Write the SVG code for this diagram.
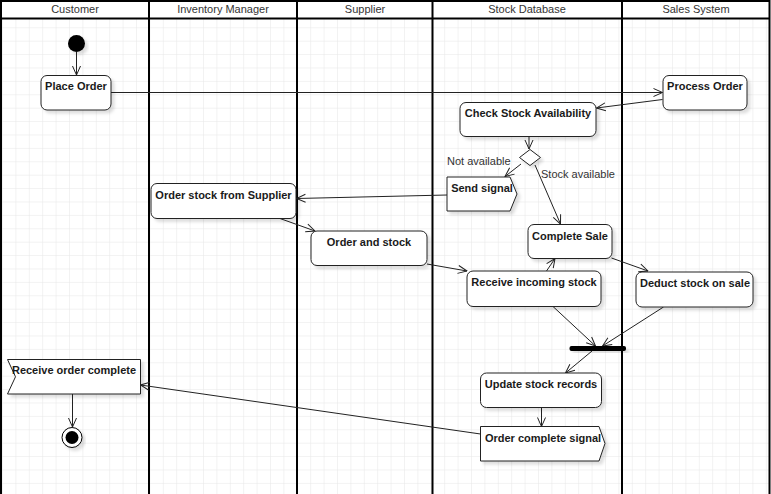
<svg xmlns="http://www.w3.org/2000/svg" width="771" height="494" viewBox="0 0 771 494">
<defs>
<pattern id="grid" x="2" y="0.5" width="13.4" height="13.4" patternUnits="userSpaceOnUse">
<path d="M0,0 H13.4 M0,0 V13.4" fill="none" stroke="#e6e6e6" stroke-width="1"/>
</pattern>
<marker id="arr" viewBox="0 0 10 10" refX="9.5" refY="5" markerWidth="10" markerHeight="10" markerUnits="userSpaceOnUse" orient="auto">
<path d="M0.5,1 L9.5,5 L0.5,9" fill="none" stroke="#222" stroke-width="1"/>
</marker>
<filter id="sh" x="-10%" y="-10%" width="130%" height="140%">
<feDropShadow dx="3" dy="3" stdDeviation="1.5" flood-color="#000" flood-opacity="0.13"/>
</filter>
</defs>
<style>
.lane{stroke:#000;stroke-width:2;fill:none}
.hd{font-family:"Liberation Sans",Arial,sans-serif;font-size:11px;fill:#333;text-anchor:middle}
.node{fill:#fff;stroke:#222;stroke-width:1;filter:url(#sh)}
.t{font-family:"Liberation Sans",Arial,sans-serif;font-size:11px;font-weight:bold;fill:#1a1a1a;text-anchor:middle}
.e{fill:none;stroke:#222;stroke-width:1;marker-end:url(#arr)}
.lbl{font-family:"Liberation Sans",Arial,sans-serif;font-size:11px;fill:#333}
</style>
<rect x="0" y="0" width="771" height="494" fill="#fff"/>
<rect x="1" y="19" width="769" height="475" fill="url(#grid)"/>
<g id="pool">
<rect x="1" y="1" width="768.5" height="500" class="lane"/>
<line x1="1" y1="18.5" x2="770" y2="18.5" class="lane"/>
<line x1="149" y1="1" x2="149" y2="494" class="lane"/>
<line x1="297" y1="1" x2="297" y2="494" class="lane"/>
<line x1="432.5" y1="1" x2="432.5" y2="494" class="lane"/>
<line x1="622" y1="1" x2="622" y2="494" class="lane"/>
<text class="hd" x="75" y="13">Customer</text>
<text class="hd" x="223" y="13">Inventory Manager</text>
<text class="hd" x="365" y="13">Supplier</text>
<text class="hd" x="527" y="13">Stock Database</text>
<text class="hd" x="696" y="13">Sales System</text>
</g>
<g id="connectors">
<path class="e" d="M76.5,52 V75"/>
<path class="e" d="M111,92.5 H662.5"/>
<path class="e" d="M662.5,99.5 L596.5,108"/>
<path class="e" d="M529,136.5 V149"/>
<path class="e" d="M521,164 L505,176.5"/>
<path class="e" d="M535,165 L560.5,224"/>
<path class="e" d="M447,195 L296.5,198.5"/>
<path class="e" d="M280,218.5 L315,231"/>
<path class="e" d="M427,264 L467,271"/>
<path class="e" d="M546.5,271 L555,258.5"/>
<path class="e" d="M611.5,258 L648,271"/>
<path class="e" d="M553,306.5 L595.5,346"/>
<path class="e" d="M663.5,307 L602.5,346"/>
<path class="e" d="M592,351 L565.5,373"/>
<path class="e" d="M541.5,407.5 V426.5"/>
<path class="e" d="M480.5,434 L140.5,385"/>
<path class="e" d="M72.5,394 V427"/>
<text class="lbl" x="447" y="164.5">Not available</text>
<text class="lbl" x="541" y="178">Stock available</text>
</g>
<g id="initial"><circle cx="76.5" cy="43.5" r="8.5" fill="#000" filter="url(#sh)"/></g>
<g id="place-order"><rect class="node" x="41" y="75.5" width="70" height="34.5" rx="6"/><text class="t" x="76" y="90">Place Order</text></g>
<g id="process-order"><rect class="node" x="663" y="75.5" width="84" height="34.5" rx="6"/><text class="t" x="705" y="90">Process Order</text></g>
<g id="check-stock"><rect class="node" x="460" y="102.5" width="136" height="34" rx="6"/><text class="t" x="528" y="117">Check Stock Availability</text></g>
<g id="decision"><path class="node" d="M530,149.5 L540.5,157.5 L530,165.5 L519.5,157.5 Z"/></g>
<g id="send-signal"><path class="node" d="M447,177 H510 L517,194 L510,211 H447 Z"/><text class="t" x="482" y="192">Send signal</text></g>
<g id="order-from-supplier"><rect class="node" x="151" y="183.5" width="145" height="35" rx="6"/><text class="t" x="223.5" y="199">Order stock from Supplier</text></g>
<g id="order-and-stock"><rect class="node" x="311" y="231" width="116" height="34.5" rx="6"/><text class="t" x="369" y="246">Order and stock</text></g>
<g id="complete-sale"><rect class="node" x="528" y="224.5" width="84" height="34" rx="6"/><text class="t" x="570" y="239.5">Complete Sale</text></g>
<g id="receive-incoming"><rect class="node" x="467" y="271" width="134" height="35.5" rx="6"/><text class="t" x="534" y="286">Receive incoming stock</text></g>
<g id="deduct-stock"><rect class="node" x="636" y="272" width="117" height="35" rx="6"/><text class="t" x="695" y="286.5">Deduct stock on sale</text></g>
<g id="join-bar"><rect x="569.5" y="346" width="56.5" height="5" rx="2" fill="#000" filter="url(#sh)"/></g>
<g id="update-records"><rect class="node" x="480.5" y="373" width="121" height="34.5" rx="6"/><text class="t" x="541" y="388">Update stock records</text></g>
<g id="order-complete-signal"><path class="node" d="M480.5,426.5 H599 L605,443.5 L599,461 H480.5 Z"/><text class="t" x="543" y="442">Order complete signal</text></g>
<g id="receive-order-complete"><path class="node" d="M7.5,359.5 H140.5 V394 H7.5 L15.5,376.75 Z"/><text class="t" x="74" y="374">Receive order complete</text></g>
<g id="final"><circle cx="72" cy="437.5" r="10" fill="#fff" stroke="#000" stroke-width="1" filter="url(#sh)"/><circle cx="72" cy="437.5" r="6.5" fill="#000"/></g>
</svg>
